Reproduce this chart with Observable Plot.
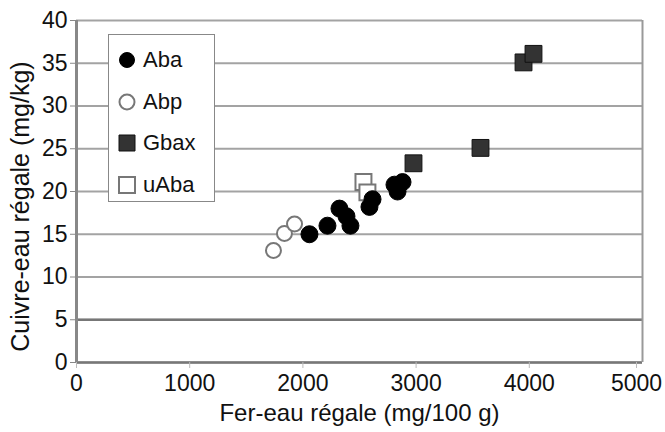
<!DOCTYPE html>
<html>
<head>
<meta charset="utf-8">
<script src="https://cdn.jsdelivr.net/npm/d3@7"></script>
<script src="https://cdn.jsdelivr.net/npm/@observablehq/plot@0.6"></script>
<style>
  html, body { margin: 0; padding: 0; background: #fff; }
  #wrap { position: relative; width: 665px; height: 432px; font-family: "Liberation Sans", Arial, sans-serif; }
  #legend { position: absolute; left: 108px; top: 34px; width: 105px; height: 166px; border: 1.5px solid #888; background: #fff; }
  #legend .item { position: absolute; left: 0; display: flex; align-items: center; font-size: 22px; color: #111; }
  #legend svg { margin-left: 8px; margin-right: 6px; }
</style>
</head>
<body>
<div id="wrap"><div id="legend"></div></div>
<script>
// Series data (x: Fer-eau régale mg/100 g, y: Cuivre-eau régale mg/kg)
const abaX = [2058, 2217, 2323, 2385, 2420, 2588, 2615, 2809, 2836, 2880];
const abaY = [15.0, 16.0, 18.0, 17.1, 16.0, 18.2, 19.1, 20.8, 20.0, 21.1];
const abpX = [1740, 1837, 1926];
const abpY = [13.1, 15.1, 16.2];
const gbaxX = [2977, 3569, 3949, 4037];
const gbaxY = [23.3, 25.1, 35.1, 36.1];
const uabaX = [2535, 2570];
const uabaY = [21.1, 19.9];
const seriesNames = ["Aba", "Abp", "Gbax", "uAba"];
const xTicks = [0, 1000, 2000, 3000, 4000, 5000];
const yTicks = [0, 5, 10, 15, 20, 25, 30, 35, 40];
const xTitle = "Fer-eau régale (mg/100 g)";
const yTitle = "Cuivre-eau régale (mg/kg)";

const toRows = (xs, ys) => xs.map((x, i) => ({x, y: ys[i]}));
const aba = toRows(abaX, abaY);
const abp = toRows(abpX, abpY);
const gbax = toRows(gbaxX, gbaxY);
const uaba = toRows(uabaX, uabaY);

const styles = {
  Aba: {symbol: "circle", r: 8.5, fill: "#000", stroke: "#000", strokeWidth: 1},
  Abp: {symbol: "circle", r: 7.5, fill: "#fff", stroke: "#777", strokeWidth: 2},
  Gbax: {symbol: "square", r: 9.5, fill: "#333", stroke: "#111", strokeWidth: 1},
  uAba: {symbol: "square", r: 9, fill: "#fff", stroke: "#777", strokeWidth: 2}
};

const fmt = d => String(d);
const chart = Plot.plot({
  width: 665,
  height: 432,
  marginLeft: 76,
  marginRight: 23,
  marginTop: 20,
  marginBottom: 70,
  style: {fontFamily: "Liberation Sans, Arial, sans-serif", fontSize: "23px", color: "#111", background: "#fff"},
  x: {domain: [0, 5000]},
  y: {domain: [0, 40]},
  marks: [
    Plot.gridY(yTicks, {stroke: "#a3a3a3", strokeWidth: 2, strokeOpacity: 1}),
    Plot.ruleY([5], {stroke: "#777", strokeWidth: 2.5}),
    Plot.ruleY([0], {stroke: "#777", strokeWidth: 2.5}),
    Plot.ruleX([0], {stroke: "#888", strokeWidth: 3}),
    Plot.ruleX([5000], {stroke: "#999", strokeWidth: 2}),
    Plot.axisY(yTicks, {stroke: "#888", tickSize: 6, tickPadding: 3, fontSize: 23, tickFormat: fmt, label: null}),
    Plot.axisX(xTicks.slice(0, -1), {stroke: "#bbb", tickSize: 6, tickPadding: 6, fontSize: 23, tickFormat: fmt, label: null}),
    Plot.axisX(xTicks.slice(-1), {stroke: "#bbb", tickSize: 6, tickPadding: 6, fontSize: 23, tickFormat: fmt, label: null, dx: -6}),
    Plot.text([xTitle], {text: d => d, frameAnchor: "bottom", lineAnchor: "middle", dy: 51, fontSize: 24, fill: "#111"}),
    Plot.text([yTitle], {text: d => d, frameAnchor: "left", rotate: -90, textAnchor: "middle", lineAnchor: "middle", dx: -56, dy: 15, fontSize: 25, fill: "#111"}),
    Plot.dot(abp, {x: "x", y: "y", ...styles.Abp}),
    Plot.dot(uaba, {x: "x", y: "y", ...styles.uAba}),
    Plot.dot(gbax, {x: "x", y: "y", ...styles.Gbax}),
    Plot.dot(aba, {x: "x", y: "y", ...styles.Aba})
  ]
});
document.getElementById("wrap").prepend(chart);

// Legend
const legend = d3.select("#legend");
seriesNames.forEach((name, i) => {
  const s = styles[name];
  const item = legend.append("div").attr("class", "item").style("top", (8 + i * 41.5) + "px").style("height", "34px");
  const svg = item.append("svg").attr("width", 20).attr("height", 20);
  const sym = s.symbol === "circle" ? d3.symbolCircle : d3.symbolSquare;
  const size = s.symbol === "circle" ? Math.PI * 7.5 * 7.5 : 16 * 16;
  svg.append("path").attr("transform", "translate(10,10)")
    .attr("d", d3.symbol(sym, size)())
    .attr("fill", s.fill).attr("stroke", s.stroke).attr("stroke-width", s.strokeWidth);
  item.append("span").text(name);
});
</script>
</body>
</html>
